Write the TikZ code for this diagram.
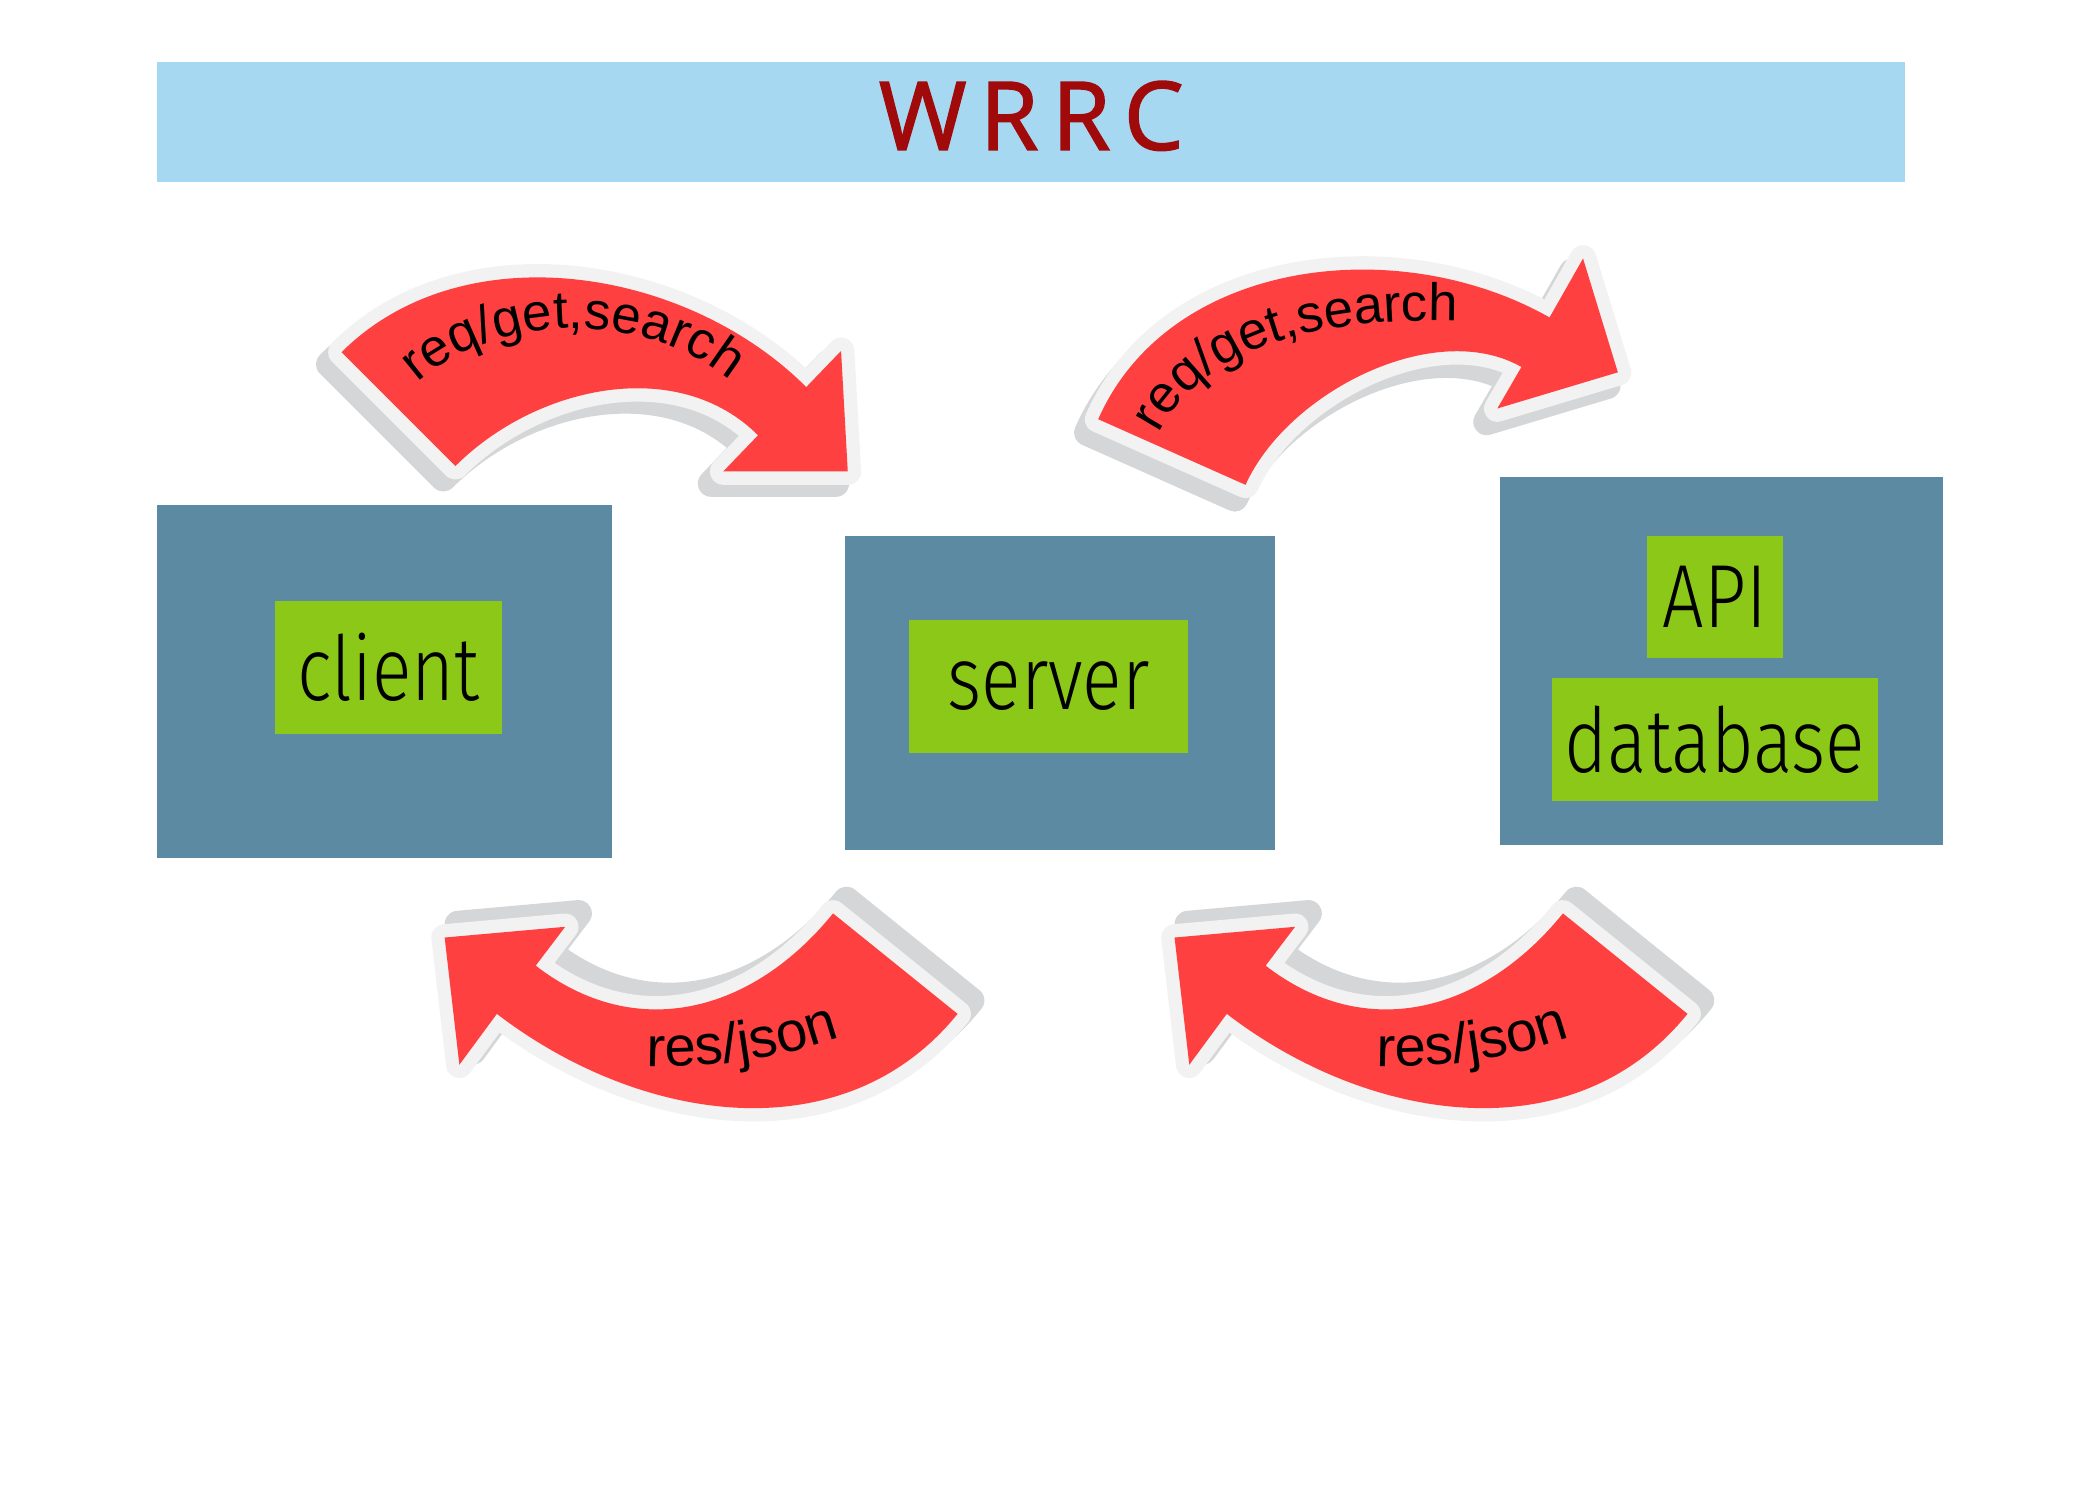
\documentclass[tikz,border=0pt]{standalone}
\usepackage{fontspec}
\setmainfont{Liberation Sans}
\newfontfamily\titlefont[LetterSpace=14, FakeBold=1.6]{Open Sans}
\IfFontExistsTF{Fira Sans Light}
  {\newfontfamily\tagfont[FakeStretch=0.82]{Fira Sans Light}}
  {\newfontfamily\tagfont[FakeStretch=0.82]{Fira Sans}}
\usetikzlibrary{decorations.text}

\definecolor{bannerblue}{HTML}{A6D8F2}
\definecolor{titlered}{HTML}{A00A0A}
\definecolor{panelblue}{HTML}{5D8AA3}
\definecolor{taggreen}{HTML}{8CC817}
\definecolor{stickerred}{HTML}{FF4040}
\definecolor{rimgrey}{HTML}{F2F2F2}
\definecolor{shadowgrey}{HTML}{D4D6D8}

\tikzset{
  panel/.style={fill=panelblue, inner sep=0pt},
  tag/.style={fill=taggreen, inner sep=0pt, font=\tagfont\fontsize{25.5}{28}\selectfont},
  arrowshadow/.style={fill=shadowgrey, draw=shadowgrey, line width=7.6pt, line join=round},
  arrowrim/.style={fill=rimgrey, draw=rimgrey, line width=7.6pt, line join=round},
  arrowbody/.style={fill=stickerred},
  caption/.style 2 args={decorate, decoration={text along path, text align=center, text={|\fontsize{#1}{18}\selectfont|#2}}},
}

% sticker outlines
\def\reqleft{(255,263) .. controls (345,173) and (512,199) .. (602,289) -- (628,262) -- (633,352) -- (540,352) -- (566,325) .. controls (506,265) and (400,288) .. (340,348) -- cycle}
\def\reqright{(820,313) .. controls (873,193) and (1044,173) .. (1157,237) -- (1182,193) -- (1208,278) -- (1118,305) -- (1136,274) .. controls (1071,237) and (961,293) .. (930,362) -- cycle}
\def\resback{(332,700) -- (422,692) -- (400,721) .. controls (475,779) and (562,756) .. (622,682) -- (715,757) .. controls (630,862) and (478,839) .. (371,757) -- (343,795) -- cycle}

\begin{document}
\begin{tikzpicture}[x=0.01339cm, y=-0.01339cm]
    \useasboundingbox (0,0) rectangle (1568,1120);

    % Title
    \node[fill=bannerblue, minimum width=17.487cm, minimum height=1.205cm, inner sep=0pt, text depth=0.13cm,
      text=titlered, font=\titlefont\fontsize{27}{30}\selectfont] (title) at (770,91) {WRRC};

    % Boxes
    \node[panel, minimum width=4.553cm, minimum height=3.535cm] (client) at (287,509) {};
    \node[tag, minimum width=2.276cm, minimum height=1.326cm] (clientlbl) at (290,498.5) {client};
    \node[panel, minimum width=4.298cm, minimum height=3.147cm] (server) at (791.5,517.5) {};
    \node[tag, minimum width=2.785cm, minimum height=1.326cm] (serverlbl) at (783,512.5) {server};
    \node[panel, minimum width=4.432cm, minimum height=3.682cm] (store) at (1285.5,493.5) {};
    \node[tag, minimum width=1.352cm, minimum height=1.218cm] (apilbl) at (1280.5,445.5) {API};
    \node[tag, minimum width=3.254cm, minimum height=1.232cm] (dblbl) at (1280.5,552) {database};

    % Requests
    \path[arrowshadow, shift={(-9,9)}] \reqleft;
    \path[arrowrim] \reqleft;
    \path[arrowbody] \reqleft;
    \path[caption={15}{req/get,search}] (305,292) .. controls (360,235) and (480,225) .. (552,290);

    \path[arrowshadow, shift={(-8,10)}] \reqright;
    \path[arrowrim] \reqright;
    \path[arrowbody] \reqright;
    \path[caption={15}{req/get,search}] (862,330) .. controls (890,270) and (960,235) .. (1095,240);

    % Responses
    \foreach \dx in {0,545} {
      \begin{scope}[shift={(\dx,0)}]
        \path[arrowshadow, shift={(10,-10)}] \resback;
        \path[arrowrim] \resback;
        \path[arrowbody] \resback;
        \path[caption={16}{res/json}] (470,795) .. controls (520,800) and (590,790) .. (640,770);
      \end{scope}
    }
\end{tikzpicture}
\end{document}
